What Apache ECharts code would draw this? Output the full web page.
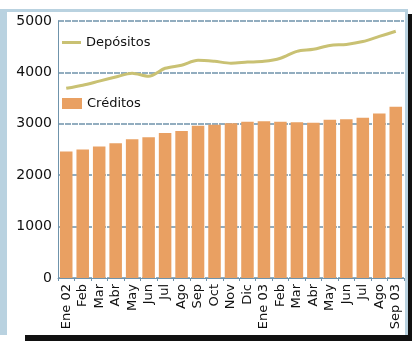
<!DOCTYPE html>
<html>
<head>
<meta charset="utf-8">
<script src="https://cdn.jsdelivr.net/npm/echarts@6/dist/echarts.min.js"></script>
<style>
  html, body { margin: 0; padding: 0; background: #ffffff; }
  #chart { width: 412px; height: 341px; }
</style>
</head>
<body>
<div id="chart"></div>
<script>
// Monthly labels, Jan 2002 – Sep 2003
const months = ['Ene 02', 'Feb', 'Mar', 'Abr', 'May', 'Jun', 'Jul', 'Ago', 'Sep', 'Oct', 'Nov', 'Dic',
                'Ene 03', 'Feb', 'Mar', 'Abr', 'May', 'Jun', 'Jul', 'Ago', 'Sep 03'];

// Deposits (line)
const depositos = [3690, 3750, 3830, 3910, 3985, 3925, 4080, 4140, 4235, 4215, 4180,
                   4200, 4215, 4275, 4410, 4450, 4525, 4545, 4600, 4700, 4800];

// Credits (bars)
const creditos = [2460, 2500, 2560, 2620, 2700, 2740, 2820, 2860, 2960, 2980, 3010,
                  3040, 3050, 3040, 3030, 3020, 3080, 3090, 3120, 3200, 3330];

const yTicks = { min: 0, max: 5000, interval: 1000 };

const chart = echarts.init(document.getElementById('chart'), null, { renderer: 'canvas' });

const frameBlue = '#b9d2e0';
const gridColor = '#6f93ab';
const lineColor = '#c9c173';
const barColor = '#e9a062';

chart.setOption({
  animation: false,
  backgroundColor: '#ffffff',
  textStyle: { fontFamily: 'DejaVu Sans' },
  grid: { left: 58, right: 8, top: 21, bottom: 63, containLabel: false },
  legend: [
    {
      data: [{ name: 'Depósitos', icon: 'rect' }],
      left: 62, top: 36, padding: 0, itemWidth: 19, itemHeight: 3, itemGap: 6,
      textStyle: { fontSize: 13, color: '#111', fontFamily: 'DejaVu Sans' }
    },
    {
      data: [{ name: 'Créditos', icon: 'rect' }],
      left: 62, top: 97, padding: 0, itemWidth: 20, itemHeight: 11, itemGap: 6,
      textStyle: { fontSize: 13, color: '#111', fontFamily: 'DejaVu Sans' }
    }
  ],
  xAxis: {
    type: 'category',
    data: months,
    axisLine: { show: true, lineStyle: { color: gridColor, width: 1 } },
    axisTick: { show: true, alignWithLabel: false, length: 3, lineStyle: { color: gridColor } },
    axisLabel: {
      rotate: 90, interval: 0, fontSize: 13, color: '#111', margin: 6,
      fontFamily: 'DejaVu Sans'
    }
  },
  yAxis: {
    type: 'value',
    min: yTicks.min, max: yTicks.max, interval: yTicks.interval,
    axisLine: { show: true, lineStyle: { color: gridColor, width: 1 } },
    axisTick: { show: false },
    axisLabel: {
      fontSize: 14, color: '#111', margin: 6, fontFamily: 'DejaVu Sans',
      formatter: v => String(v)
    },
    splitLine: { show: true, lineStyle: { color: gridColor, width: 1.5, type: [6, 1] } }
  },
  series: [
    {
      name: 'Créditos',
      type: 'bar',
      data: creditos,
      barCategoryGap: '24%',
      itemStyle: { color: barColor },
      z: 2
    },
    {
      name: 'Depósitos',
      type: 'line',
      data: depositos,
      symbol: 'none',
      smooth: 0.3,
      lineStyle: { color: lineColor, width: 3 },
      itemStyle: { color: lineColor },
      z: 3
    }
  ],
  graphic: [
    // light blue frame
    { type: 'rect', shape: { x: 0, y: 9, width: 7, height: 326 }, style: { fill: frameBlue }, silent: true },
    { type: 'rect', shape: { x: 0, y: 9, width: 408, height: 3 }, style: { fill: frameBlue }, silent: true },
    { type: 'rect', shape: { x: 405, y: 9, width: 3, height: 326 }, style: { fill: frameBlue }, silent: true },
    // dark margins right and bottom
    { type: 'rect', shape: { x: 408, y: 14, width: 4, height: 327 }, style: { fill: '#111111' }, silent: true },
    { type: 'rect', shape: { x: 25, y: 335, width: 387, height: 6 }, style: { fill: '#111111' }, silent: true }
  ]
});
</script>
</body>
</html>
